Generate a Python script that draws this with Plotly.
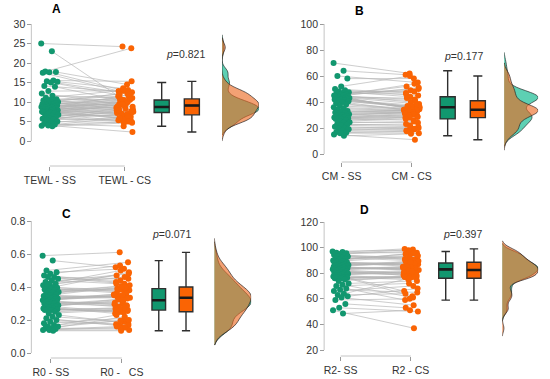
import plotly.graph_objects as go

W, H = 550, 379

# ---------------- data ----------------
tewl_ss = [25.0, 23.0, 17.8, 17.7, 17.6, 17.5, 15.5, 15.3, 15.2, 15.0,
           14.1, 13.9, 12.8, 12.2, 11.6, 11.1, 10.7, 10.5, 10.4, 10.3,
           10.1, 10.0, 9.9, 9.8, 9.6, 9.5, 9.4, 9.3, 9.2, 9.1,
           9.0, 8.9, 8.8, 8.8, 8.7, 8.6, 8.5, 8.4, 8.3, 8.2,
           8.1, 8.0, 7.9, 7.8, 7.7, 7.6, 7.5, 7.5, 7.4, 7.4,
           7.3, 7.3, 7.3, 7.1, 6.9, 6.7, 6.5, 6.3, 6.1, 5.9,
           5.7, 5.5, 5.3, 5.0, 4.7, 4.4, 4.2, 4.0, 3.9, 3.8]
tewl_cs = [24.2, 11.5, 23.8, 14.5, 13.0, 12.8, 15.3, 12.2, 13.5, 11.8,
           12.5, 10.0, 12.9, 9.5, 11.0, 13.1, 10.5, 12.0, 8.8, 11.7,
           9.8, 10.9, 8.0, 12.4, 9.2, 10.4, 7.5, 11.3, 9.0, 10.7,
           8.5, 6.8, 10.2, 9.6, 7.8, 11.9, 8.3, 9.9, 7.2, 10.6,
           6.5, 9.3, 8.7, 5.5, 10.1, 7.0, 8.9, 6.2, 9.7, 5.8,
           8.1, 7.6, 6.0, 9.4, 5.3, 7.3, 6.6, 5.1, 8.4, 4.9,
           6.9, 5.6, 7.9, 4.7, 6.3, 3.8, 5.9, 2.3, 5.0, 4.6]

cm_ss = [70, 64, 60, 58, 52, 50, 49, 48, 47.5, 47,
         46.5, 46, 45.5, 45, 45, 44.5, 44.5, 44, 44, 43.5,
         43.5, 43, 43, 42.5, 42.5, 42, 42, 41.5, 41, 40.5,
         40, 39, 38, 37, 36, 35, 34, 33, 32.5, 32,
         31.5, 31, 30.5, 30, 29.5, 29, 28.5, 28, 28, 27.5,
         27.5, 27, 27, 26, 25, 24.5, 24, 23, 22.5, 22,
         21, 20, 19.5, 19, 18, 17, 16.5, 16, 15, 14]
cm_cs = [62, 61, 55, 58, 60, 47, 45, 48, 44, 46,
         50, 54, 49, 52, 51, 42, 40, 43, 38.5, 41,
         35.5, 35, 34.5, 35.5, 35, 37, 36, 37.5, 36.5, 36,
         34, 34.5, 34, 34.5, 34, 33, 33.5, 33.5, 33, 33.5,
         32, 32.5, 31.5, 32.5, 32, 30, 31, 29, 30.5, 29.5,
         28, 28.5, 26, 28, 27, 24, 25, 22, 23, 21,
         19.5, 20.5, 18, 20, 19, 17, 17.5, 16, 11, 15.5]

r0_ss = [0.59, 0.56, 0.50, 0.49, 0.48, 0.47, 0.46, 0.46, 0.45, 0.44,
         0.43, 0.42, 0.42, 0.41, 0.40, 0.40, 0.395, 0.39, 0.385, 0.38,
         0.375, 0.37, 0.365, 0.36, 0.355, 0.35, 0.345, 0.34, 0.335, 0.33,
         0.33, 0.325, 0.325, 0.32, 0.32, 0.315, 0.31, 0.31, 0.305, 0.30,
         0.30, 0.295, 0.29, 0.285, 0.28, 0.28, 0.275, 0.27, 0.27, 0.265,
         0.265, 0.26, 0.26, 0.25, 0.24, 0.23, 0.22, 0.21, 0.20, 0.19,
         0.18, 0.17, 0.16, 0.16, 0.15, 0.15, 0.145, 0.14, 0.14, 0.135]
r0_cs = [0.61, 0.52, 0.55, 0.51, 0.53, 0.43, 0.45, 0.42, 0.44, 0.42,
         0.48, 0.46, 0.50, 0.47, 0.49, 0.37, 0.385, 0.365, 0.38, 0.375,
         0.405, 0.39, 0.41, 0.395, 0.40, 0.34, 0.335, 0.345, 0.34, 0.335,
         0.355, 0.36, 0.35, 0.345, 0.35, 0.29, 0.30, 0.28, 0.295, 0.285,
         0.31, 0.325, 0.305, 0.33, 0.32, 0.25, 0.24, 0.255, 0.245, 0.25,
         0.27, 0.26, 0.275, 0.265, 0.26, 0.18, 0.19, 0.165, 0.175, 0.17,
         0.21, 0.195, 0.23, 0.20, 0.22, 0.15, 0.16, 0.14, 0.155, 0.135]

r2_ss = [97, 96.5, 96, 95.5, 95, 94.5, 94, 93.5, 93, 92,
         91.5, 91, 90.5, 90, 89.5, 89, 88.5, 88, 87.5, 87,
         87, 86.5, 86, 86, 85.5, 85, 85, 84.5, 84, 84,
         83.5, 83.5, 83, 83, 83, 82.5, 82, 81.5, 81, 80.5,
         80, 80, 79.5, 79, 78.5, 78, 78, 77.5, 77, 77,
         76.5, 76, 76, 75, 74, 72, 71, 70, 68, 67,
         66, 64, 63, 62, 61, 59, 56, 53, 51, 48.5]
r2_cs = [98, 99, 96, 98.5, 97, 91, 92, 90.5, 91.5, 90,
         94, 95.5, 93, 95, 93.5, 86, 87, 85.5, 87, 86.5,
         89, 88, 89.5, 87.5, 88.5, 83, 82.5, 83.5, 83, 82.5,
         85, 84, 84.5, 85, 84, 79.5, 78, 80, 78.5, 79,
         81, 82, 80.5, 80, 81.5, 76, 66, 76.5, 62, 75,
         77.5, 78, 77, 76.5, 77, 74, 61, 72, 59, 65,
         70, 76, 64, 68, 55, 60, 53, 50, 37, 51]

# box statistics [lower whisker, Q1, median, Q3, upper whisker]
tewl_box_ss = [3.8, 7.3, 8.7, 10.5, 15.0]
tewl_box_cs = [2.3, 6.7, 9.1, 10.8, 15.3]
cm_box_ss = [14, 27, 36, 44, 64]
cm_box_cs = [11, 28, 34, 41, 60]
r0_box_ss = [0.135, 0.26, 0.32, 0.39, 0.56]
r0_box_cs = [0.135, 0.25, 0.335, 0.40, 0.61]
r2_box_ss = [59, 76, 83, 88, 97]
r2_box_cs = [59, 76, 82.5, 88.5, 99]

tewl_labels = ["TEWL - SS", "TEWL - CS"]
cm_labels = ["CM - SS", "CM - CS"]
r0_labels = ["R0 - SS", "R0 -\u00a0\u00a0 CS"]
r2_labels = ["R2- SS", "R2 - CS"]

tewl_ticks = [0, 5, 10, 15, 20, 25, 30]
cm_ticks = [0, 20, 40, 60, 80, 100]
r0_ticks = [0.0, 0.2, 0.4, 0.6, 0.8]
r0_ticktext = ["0.0", "0.2", "0.4", "0.6", "0.8"]
r2_ticks = [20, 40, 60, 80, 100, 120]

p_values = ["0.821", "0.177", "0.071", "0.397"]
panel_letters = ["A", "B", "C", "D"]

# ---------------- styling / layout (pixel geometry) ----------------
GREEN = "#12976F"
ORANGE = "#FA6404"
GREEN_FILL = "rgba(30,190,150,0.72)"
ORANGE_FILL = "rgba(236,104,30,0.62)"
AXIS_COL = "#C4C4C4"
TXT = "#333333"
FONT = "Liberation Sans, Arial, sans-serif"

panels = [
    dict(ss=tewl_ss, cs=tewl_cs, bss=tewl_box_ss, bcs=tewl_box_cs, labels=tewl_labels,
         ticks=tewl_ticks, ticktext=[str(t) for t in tewl_ticks], bw=1.1,
         yax_px=24, ya=(0, 141), yb=(30, 24), yrange=[-6, 33],
         xs_dom=(24, 140), ss_px=43, cs_px=120, xline_px=166,
         xb_dom=(140, 206), b0_px=158, b1_px=189, xd_dom=(220, 258),
         title=(50, 9), ptxt=(182, 54)),
    dict(ss=cm_ss, cs=cm_cs, bss=cm_box_ss, bcs=cm_box_cs, labels=cm_labels,
         ticks=cm_ticks, ticktext=[str(t) for t in cm_ticks], bw=4.0,
         yax_px=325, ya=(0, 154), yb=(100, 24), yrange=[-10, 108],
         xs_dom=(325, 430), ss_px=343, cs_px=415, xline_px=162,
         xb_dom=(432, 500), b0_px=452, b1_px=483, xd_dom=(510, 545),
         title=(361, 11), ptxt=(468, 56)),
    dict(ss=r0_ss, cs=r0_cs, bss=r0_box_ss, bcs=r0_box_cs, labels=r0_labels,
         ticks=r0_ticks, ticktext=r0_ticktext, bw=0.042,
         yax_px=24, ya=(0.0, 353), yb=(0.8, 221), yrange=[-0.06, 0.86],
         xs_dom=(24, 135), ss_px=44, cs_px=117, xline_px=358,
         xb_dom=(136, 200), b0_px=155, b1_px=183, xd_dom=(212, 250),
         title=(60, 214), ptxt=(168, 234)),
    dict(ss=r2_ss, cs=r2_cs, bss=r2_box_ss, bcs=r2_box_cs, labels=r2_labels,
         ticks=r2_ticks, ticktext=[str(t) for t in r2_ticks], bw=3.0,
         yax_px=325, ya=(20, 350), yb=(120, 222), yrange=[12, 127],
         xs_dom=(325, 430), ss_px=342, cs_px=414, xline_px=356,
         xb_dom=(432, 497), b0_px=450, b1_px=479, xd_dom=(508, 545),
         title=(367, 210), ptxt=(467, 234)),
]


def fx(px):
    return px / W


def fy(py):
    return 1 - py / H


fig = go.Figure()
layout = dict(
    width=W, height=H, margin=dict(l=0, r=0, t=0, b=0),
    paper_bgcolor="white", plot_bgcolor="white", showlegend=False,
    font=dict(family=FONT, size=10.5, color=TXT),
    violinmode="overlay", boxmode="overlay",
)
shapes = []
annotations = []

for k, P in enumerate(panels):
    xs_name, xb_name, xd_name = 3 * k + 1, 3 * k + 2, 3 * k + 3
    yk = k + 1
    xs_ref = "x" if xs_name == 1 else f"x{xs_name}"
    xb_ref, xd_ref = f"x{xb_name}", f"x{xd_name}"
    y_ref = "y" if yk == 1 else f"y{yk}"

    (va, pa), (vb, pb) = P["ya"], P["yb"]
    scale = (pa - pb) / (vb - va)
    r0, r1 = P["yrange"]
    p_r0 = pa + (va - r0) * scale
    p_r1 = pa - (r1 - va) * scale
    ydom = [fy(p_r0), fy(p_r1)]

    layout["yaxis" if yk == 1 else f"yaxis{yk}"] = dict(
        domain=ydom, range=P["yrange"], anchor="free", position=fx(P["yax_px"]),
        showline=False, showgrid=False, zeroline=False,
        tickmode="array", tickvals=P["ticks"], ticktext=P["ticktext"],
        ticks="outside", ticklen=4, tickcolor="#9A9A9A", tickwidth=1,
        tickfont=dict(family=FONT, size=10.5, color=TXT),
    )

    unit = P["cs_px"] - P["ss_px"]
    d0, d1 = P["xs_dom"]
    layout["xaxis" if xs_name == 1 else f"xaxis{xs_name}"] = dict(
        domain=[fx(d0), fx(d1)],
        range=[(d0 - P["ss_px"]) / unit, (d1 - P["ss_px"]) / unit],
        anchor="free", position=fy(P["xline_px"]),
        showline=False, showgrid=False, zeroline=False,
        tickmode="array", tickvals=[0, 1], ticktext=P["labels"],
        ticks="outside", ticklen=4, tickcolor="#9A9A9A",
        tickfont=dict(family=FONT, size=10.5, color=TXT),
    )
    bunit = P["b1_px"] - P["b0_px"]
    b0, b1 = P["xb_dom"]
    layout[f"xaxis{xb_name}"] = dict(
        domain=[fx(b0), fx(b1)],
        range=[(b0 - P["b0_px"]) / bunit, (b1 - P["b0_px"]) / bunit],
        anchor=y_ref, visible=False,
    )
    layout[f"xaxis{xd_name}"] = dict(
        domain=[fx(P["xd_dom"][0]), fx(P["xd_dom"][1])], range=[0, 1],
        anchor=y_ref, visible=False,
    )

    ss, cs = P["ss"], P["cs"]
    n = len(ss)
    jit_ss = [((i * 0.6180339887) % 1 - 0.5) * 0.23 for i in range(n)]
    jit_cs = [((i * 0.7548776662 + 0.37) % 1 - 0.5) * 0.23 for i in range(n)]

    lx, ly = [], []
    for i in range(n):
        lx += [0 + jit_ss[i], 1 + jit_cs[i], None]
        ly += [ss[i], cs[i], None]
    fig.add_trace(go.Scatter(x=lx, y=ly, mode="lines", xaxis=xs_ref, yaxis=y_ref,
                             line=dict(color="rgba(180,180,180,0.75)", width=0.9),
                             hoverinfo="skip"))
    fig.add_trace(go.Scatter(x=[0 + j for j in jit_ss], y=ss, mode="markers",
                             xaxis=xs_ref, yaxis=y_ref,
                             marker=dict(color=GREEN, size=6, line=dict(width=0))))
    fig.add_trace(go.Scatter(x=[1 + j for j in jit_cs], y=cs, mode="markers",
                             xaxis=xs_ref, yaxis=y_ref,
                             marker=dict(color=ORANGE, size=6, line=dict(width=0))))

    for pos, stats, col in [(0, P["bss"], GREEN), (1, P["bcs"], ORANGE)]:
        fig.add_trace(go.Box(
            x=[pos], lowerfence=[stats[0]], q1=[stats[1]], median=[stats[2]],
            q3=[stats[3]], upperfence=[stats[4]],
            xaxis=xb_ref, yaxis=y_ref, width=0.5, whiskerwidth=0.6,
            fillcolor=col, line=dict(color="#2E2E2E", width=1.4),
        ))
        fig.add_trace(go.Scatter(
            x=[pos - 0.25, pos + 0.25], y=[stats[2], stats[2]], mode="lines",
            xaxis=xb_ref, yaxis=y_ref, line=dict(color="#1A1A1A", width=2.6),
            hoverinfo="skip"))

    for data, fill in [(ss, GREEN_FILL), (cs, ORANGE_FILL)]:
        fig.add_trace(go.Violin(
            y=data, x0=0, xaxis=xd_ref, yaxis=y_ref, side="positive", width=2,
            scalemode="count", scalegroup=f"g{k}", points=False,
            bandwidth=P["bw"],
            fillcolor=fill, line=dict(color="rgba(35,35,35,0.85)", width=0.8),
            hoverinfo="skip",
        ))

    shapes.append(dict(type="line", xref="paper", yref=y_ref,
                       x0=fx(P["yax_px"]), x1=fx(P["yax_px"]),
                       y0=P["ticks"][0], y1=P["ticks"][-1],
                       line=dict(color=AXIS_COL, width=1)))
    shapes.append(dict(type="line", xref=xs_ref, yref="paper",
                       x0=0, x1=1, y0=fy(P["xline_px"]), y1=fy(P["xline_px"]),
                       line=dict(color=AXIS_COL, width=1)))

    annotations.append(dict(text=f"<b>{panel_letters[k]}</b>", xref="paper", yref="paper",
                            x=fx(P["title"][0]), y=fy(P["title"][1]),
                            showarrow=False, xanchor="center", yanchor="middle",
                            font=dict(family=FONT, size=12, color="black")))
    annotations.append(dict(text=f"<i>p</i>={p_values[k]}", xref="paper", yref="paper",
                            x=fx(P["ptxt"][0]), y=fy(P["ptxt"][1]),
                            showarrow=False, xanchor="center", yanchor="middle",
                            font=dict(family=FONT, size=10.5, color=TXT)))

layout["shapes"] = shapes
layout["annotations"] = annotations
fig.update_layout(**layout)
fig.write_html("out.html", config={"displayModeBar": False},
               post_script="document.body.style.margin='0';document.body.style.padding='0';")
